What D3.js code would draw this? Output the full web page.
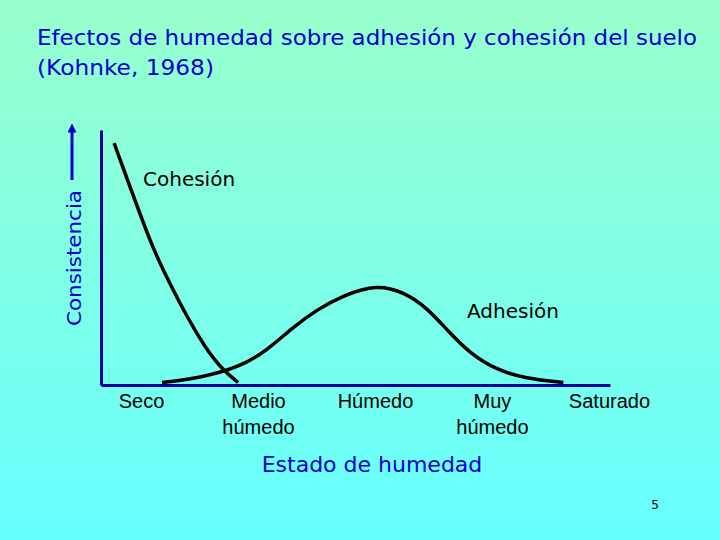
<!DOCTYPE html>
<html>
<head>
<meta charset="utf-8">
<script src="https://cdn.jsdelivr.net/npm/d3@7"></script>
<style>
  body { margin: 0; }
  svg { display: block; font-family: "Comic Sans MS", "DejaVu Sans", sans-serif; }
</style>
</head>
<body>
<svg width="720" height="540"></svg>
<script>
// moisture states along the bottom
var estados = [["Seco"], ["Medio", "húmedo"], ["Húmedo"], ["Muy", "húmedo"], ["Saturado"]];
// curve points: x in moisture-state units, y in relative consistency
var cohesionX = [-0.23, 0.08, 0.19, 0.36, 0.56, 0.70, 0.83];
var cohesionY = [96.7, 56.4, 45.4, 29.3, 13.1, 5.1, 0];
var adhesionX = [0.18, 0.50, 0.85, 1.08, 1.30, 1.50, 1.73, 2.02, 2.24, 2.44, 2.64, 2.81, 3.04, 3.27, 3.61];
var adhesionY = [0, 1.8, 6.3, 13.1, 22.4, 29.3, 35.3, 39.6, 36.6, 30.5, 20.0, 11.9, 5.1, 1.8, 0];

var svg = d3.select("svg"),
    width = +svg.attr("width"),
    height = +svg.attr("height");

// background gradient
var grad = svg.append("defs").append("linearGradient")
    .attr("id", "bg").attr("x1", 0).attr("y1", 0).attr("x2", 0).attr("y2", 1);
grad.append("stop").attr("offset", "0%").attr("stop-color", "#99ffcc");
grad.append("stop").attr("offset", "100%").attr("stop-color", "#66ffff");
svg.append("rect").attr("width", width).attr("height", height).attr("fill", "url(#bg)");

var x = d3.scaleLinear().domain([-0.342, 4.009]).range([101, 610]);
var y = d3.scaleLinear().domain([-1, 102]).range([385, 130]);

// title
var title = svg.append("text")
    .attr("x", 37).attr("y", 45)
    .attr("fill", "#0000cc")
    .attr("font-size", "22px");
title.append("tspan").attr("x", 37)
    .attr("textLength", 660).attr("lengthAdjust", "spacingAndGlyphs")
    .text("Efectos de humedad sobre adhesión y cohesión del suelo");
title.append("tspan").attr("x", 37).attr("dy", 30)
    .attr("textLength", 177).attr("lengthAdjust", "spacingAndGlyphs")
    .text("(Kohnke, 1968)");

// axes
var xAxis = svg.append("g")
    .attr("transform", "translate(0," + y.range()[0] + ")")
    .call(d3.axisBottom(x).tickValues(d3.range(estados.length)).tickSize(0).tickSizeOuter(0).tickFormat(""));
xAxis.select(".domain").attr("stroke", "#0000a0").attr("stroke-width", 3);

var yAxis = svg.append("g")
    .attr("transform", "translate(" + x.range()[0] + ",0)")
    .call(d3.axisLeft(y).tickValues([]).tickSizeOuter(0));
yAxis.select(".domain").attr("stroke", "#0000a0").attr("stroke-width", 3);

// tick labels (two lines for some)
xAxis.selectAll(".tick").each(function (d) {
    var t = d3.select(this).append("text")
        .attr("y", 23)
        .attr("fill", "#000")
        .attr("font-size", "20px")
        .attr("text-anchor", "middle");
    estados[d].forEach(function (s, i) {
        t.append("tspan").attr("x", 0).attr("dy", i ? 26 : 0).text(s);
    });
});

svg.append("text")
    .attr("x", 372).attr("y", 472)
    .attr("text-anchor", "middle")
    .attr("fill", "#0000cc")
    .attr("font-size", "22px")
    .text("Estado de humedad");

// y label with arrow
svg.append("defs").append("marker")
    .attr("id", "arrow").attr("viewBox", "0 0 10 10")
    .attr("refX", 5).attr("refY", 5)
    .attr("markerWidth", 3).attr("markerHeight", 3)
    .attr("orient", "auto")
  .append("path").attr("d", "M0,0L10,5L0,10z").attr("fill", "#0000cc");
svg.append("line")
    .attr("x1", 72).attr("y1", 180).attr("x2", 72).attr("y2", 128)
    .attr("stroke", "#0000cc").attr("stroke-width", 3)
    .attr("marker-end", "url(#arrow)");
svg.append("text")
    .attr("transform", "translate(81,258) rotate(-90)")
    .attr("text-anchor", "middle")
    .attr("fill", "#0000cc")
    .attr("font-size", "20px")
    .attr("textLength", 136).attr("lengthAdjust", "spacingAndGlyphs")
    .text("Consistencia");

// curves
var line = d3.line()
    .x(function (d) { return x(d[0]); })
    .y(function (d) { return y(d[1]); })
    .curve(d3.curveBasis);

svg.append("path")
    .datum(d3.zip(cohesionX, cohesionY))
    .attr("d", line)
    .attr("fill", "none").attr("stroke", "#000").attr("stroke-width", 3.5);

svg.append("path")
    .datum(d3.zip(adhesionX, adhesionY))
    .attr("d", line)
    .attr("fill", "none").attr("stroke", "#000").attr("stroke-width", 3.5);

svg.append("text").attr("x", 143).attr("y", 186)
    .attr("font-size", "20px").attr("fill", "#000").text("Cohesión");
svg.append("text").attr("x", 467).attr("y", 318)
    .attr("font-size", "20px").attr("fill", "#000").text("Adhesión");

// slide number
svg.append("text").attr("x", 655).attr("y", 509)
    .attr("text-anchor", "middle")
    .attr("font-size", "12px").attr("fill", "#000").text("5");
</script>
</body>
</html>
